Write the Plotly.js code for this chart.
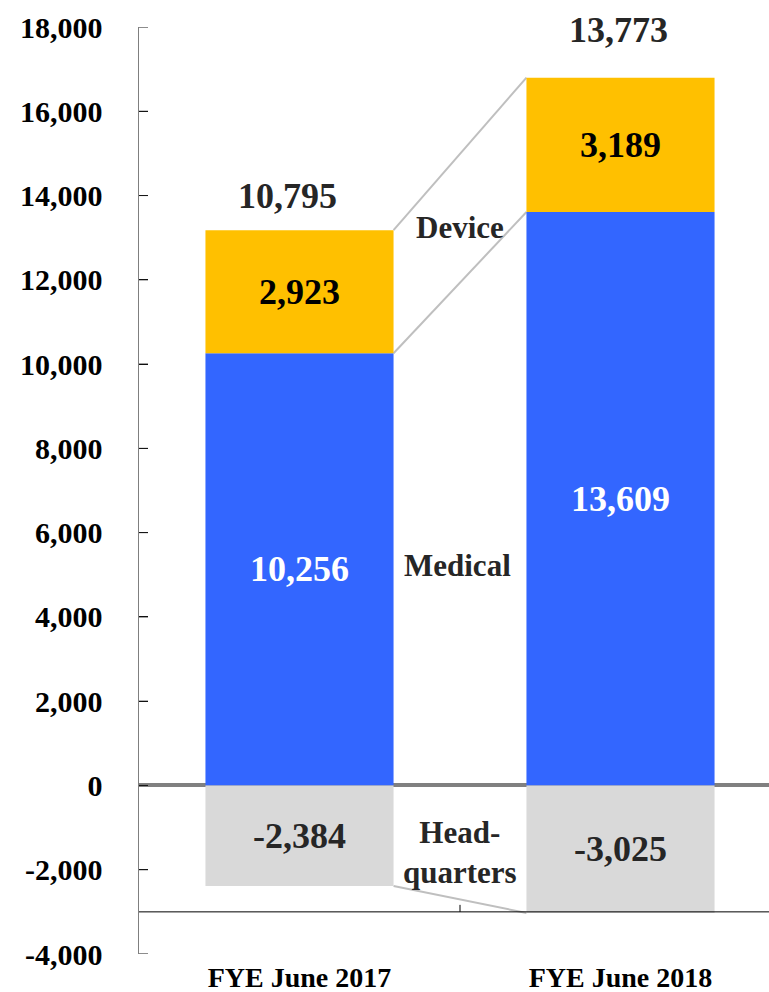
<!DOCTYPE html>
<html><head><meta charset="utf-8">
<script src="https://cdn.plot.ly/plotly-3.0.1.min.js"></script>
<style>html,body{margin:0;padding:0;background:#fff}#chart{width:769px;height:992px}</style>
</head><body><div id="chart"></div><script>
// ---- data ----
const categories = ['FYE June 2017', 'FYE June 2018'];
const medical = [10256, 13609];
const device = [2923, 3189];
const headquarters = [-2384, -3025];
const yTickVals = [-4000, -2000, 0, 2000, 4000, 6000, 8000, 10000, 12000, 14000, 16000, 18000];
const yTickText = ['-4,000', '-2,000', '0', '2,000', '4,000', '6,000', '8,000', '10,000', '12,000', '14,000', '16,000', '18,000'];

// ---- styling ----
const FONT = 'Liberation Serif, Times New Roman, serif';
const BW = 0.586;
const fmt = v => v.toLocaleString('en-US');
const yMin = -4000, yMax = 18000, xAxisAt = -3000;

function barTrace(name, vals, color, txtColor) {
  return {
    type: 'bar', name: name, x: categories, y: vals, width: BW,
    marker: {color: color, line: {width: 0}},
    text: vals.map(fmt), textposition: 'inside', insidetextanchor: 'middle',
    textangle: 0, constraintext: 'none',
    textfont: {family: FONT, size: 36, weight: 'bold', color: txtColor},
    hoverinfo: 'skip'
  };
}

const traces = [
  barTrace('Medical', medical, '#3366FF', '#FFFFFF'),
  barTrace('Device', device, '#FFC000', '#000000'),
  barTrace('Headquarters', headquarters, '#D9D9D9', '#262626')
];

// connector lines between the two bars
const tops1 = medical.slice();
const tops2 = medical.map((m, i) => m + device[i]);
const shapes = [];
[tops1, tops2, headquarters].forEach(arr => {
  shapes.push({type: 'line', xref: 'x', yref: 'y',
    x0: 0 + BW / 2, x1: 1 - BW / 2, y0: arr[0], y1: arr[1],
    line: {color: '#BFBFBF', width: 2}, layer: 'below'});
});
// category axis line crossing at y = -3000, with a boundary tick between categories
shapes.push({type: 'line', xref: 'paper', yref: 'y', x0: 0, x1: 1, y0: xAxisAt, y1: xAxisAt,
  line: {color: '#000', width: 1}, layer: 'above'});
shapes.push({type: 'line', xref: 'x', yref: 'y', ysizemode: 'pixel', yanchor: xAxisAt,
  x0: 0.5, x1: 0.5, y0: 0, y1: 7, line: {color: '#000', width: 1}, layer: 'above'});
// inward value-axis tick marks
yTickVals.forEach(v => {
  shapes.push({type: 'line', xref: 'paper', yref: 'y', xsizemode: 'pixel', xanchor: 0,
    x0: 0, x1: 9, y0: v, y1: v, line: {color: '#1a1a1a', width: 1}, layer: 'above'});
});

const annFont = {family: FONT, size: 31, weight: 'bold', color: '#262626'};
const annotations = [];
const totShift = [[-12, 12], [-2, 26]];
categories.forEach((c, i) => {
  const total = medical[i] + device[i] + headquarters[i];
  annotations.push({x: i, y: medical[i] + device[i], xref: 'x', yref: 'y',
    text: fmt(total), showarrow: false, yanchor: 'bottom',
    xshift: totShift[i][0], yshift: totShift[i][1],
    font: {family: FONT, size: 36, weight: 'bold', color: '#262626'}});
});
annotations.push({x: 0.5, y: 13250, xref: 'x', yref: 'y', text: 'Device', showarrow: false, font: annFont});
annotations.push({x: 0.5, y: 5220, xref: 'x', yref: 'y', text: 'Medical', showarrow: false, xshift: -3, font: annFont});
annotations.push({x: 0.5, y: -1580, xref: 'x', yref: 'y', text: 'Head-<br>quarters', showarrow: false, font: annFont});

const layout = {
  width: 769, height: 992,
  margin: {l: 139, r: 0, t: 27, b: 38},
  paper_bgcolor: '#fff', plot_bgcolor: '#fff',
  barmode: 'relative', showlegend: false,
  xaxis: {
    type: 'category', range: [-0.5, -0.5 + 630 / 321],
    showline: false, ticks: '', showgrid: false, zeroline: false,
    ticklabelstandoff: 4,
    tickfont: {family: FONT, size: 28, weight: 'bold', color: '#000'}
  },
  yaxis: {
    range: [yMin, yMax], tickmode: 'array', tickvals: yTickVals, ticktext: yTickText,
    showline: true, linecolor: '#7F7F7F', linewidth: 1.5,
    ticks: 'inside', ticklen: 9, tickcolor: '#000000', tickwidth: 1,
    showgrid: false, zeroline: true, zerolinecolor: '#808080', zerolinewidth: 4,
    ticklabelstandoff: 29,
    tickfont: {family: FONT, size: 30, weight: 'bold', color: '#000'}
  },
  shapes: shapes, annotations: annotations
};

Plotly.newPlot('chart', traces, layout, {displayModeBar: false, staticPlot: true});
</script></body></html>
